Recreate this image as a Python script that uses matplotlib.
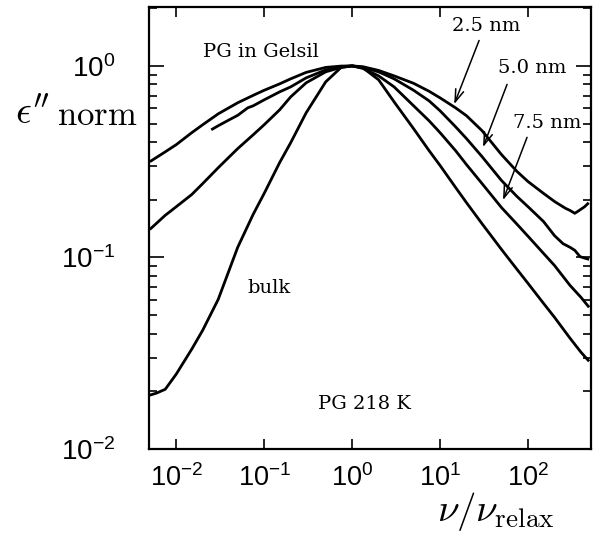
import matplotlib
matplotlib.use("Agg")
import matplotlib.pyplot as plt
from matplotlib.ticker import LogLocator, NullFormatter

# ---- data (x = nu/nu_relax, y = eps''_norm) ----
x_25 = [0.005, 0.0075, 0.01, 0.015, 0.02, 0.03, 0.05, 0.075, 0.1, 0.15, 0.2, 0.3, 0.5, 0.75,
        1.0, 1.33, 2.0, 3.0, 5.0, 7.5, 10, 15, 20, 30, 50, 75, 100, 150, 200, 240, 270, 300,
        340, 375, 410, 440, 490]
y_25 = [0.316, 0.356, 0.388, 0.448, 0.493, 0.562, 0.642, 0.702, 0.746, 0.806, 0.856, 0.925,
        0.982, 0.998, 1.0, 0.990, 0.947, 0.887, 0.811, 0.737, 0.681, 0.604, 0.549, 0.459,
        0.344, 0.281, 0.249, 0.216, 0.196, 0.186, 0.180, 0.176, 0.170, 0.175, 0.180, 0.184,
        0.193]

x_50 = [0.025, 0.03, 0.04, 0.05, 0.065, 0.075, 0.1, 0.15, 0.2, 0.3, 0.5, 0.75, 1.0, 1.33,
        2.0, 3.0, 5.0, 7.5, 10, 15, 20, 30, 50, 75, 100, 150, 200, 250, 300, 340, 390, 450,
        495]
y_50 = [0.464, 0.487, 0.523, 0.552, 0.604, 0.619, 0.665, 0.732, 0.777, 0.866, 0.953, 0.990,
        1.0, 0.982, 0.931, 0.856, 0.746, 0.657, 0.583, 0.481, 0.417, 0.336, 0.252, 0.208,
        0.184, 0.154, 0.130, 0.118, 0.113, 0.109, 0.101, 0.0989, 0.0977]

x_75 = [0.005, 0.0075, 0.01, 0.015, 0.02, 0.03, 0.05, 0.075, 0.1, 0.15, 0.2, 0.3, 0.5, 0.75,
        1.0, 1.33, 2.0, 3.0, 5.0, 7.5, 10, 15, 20, 30, 50, 75, 100, 150, 200, 300, 400, 495]
y_75 = [0.140, 0.166, 0.184, 0.213, 0.243, 0.294, 0.370, 0.437, 0.493, 0.590, 0.689, 0.816,
        0.931, 0.982, 1.0, 0.970, 0.887, 0.777, 0.619, 0.517, 0.448, 0.361, 0.305, 0.243,
        0.182, 0.149, 0.129, 0.105, 0.0908, 0.0715, 0.0619, 0.0549]

x_bulk = [0.005, 0.006, 0.0075, 0.01, 0.015, 0.02, 0.03, 0.05, 0.075, 0.1, 0.15, 0.2, 0.3,
          0.5, 0.75, 1.0, 1.33, 2.0, 3.0, 5.0, 7.5, 10, 15, 20, 30, 50, 75, 100, 150, 200,
          300, 400, 495]
y_bulk = [0.0191, 0.0196, 0.0205, 0.0246, 0.0332, 0.0417, 0.0604, 0.113, 0.168, 0.216,
          0.313, 0.397, 0.569, 0.825, 0.982, 1.0, 0.976, 0.846, 0.649, 0.470, 0.361, 0.302,
          0.232, 0.193, 0.150, 0.110, 0.0866, 0.0732, 0.0576, 0.0487, 0.0379, 0.0320,
          0.0287]

series = [(x_25, y_25), (x_50, y_50), (x_75, y_75), (x_bulk, y_bulk)]

x_limits = (4.9e-3, 520)
y_limits = (1e-2, 2.03)

fig = plt.figure(figsize=(5.93, 5.41), dpi=100)
ax = fig.add_axes([149/593, 1-449/541, 442/593, 442/541])

for xs, ys in series:
    ax.plot(xs, ys, color="black", lw=2.0, solid_joinstyle="round", solid_capstyle="butt")

ax.set_xscale("log")
ax.set_yscale("log")
ax.set_xlim(*x_limits)
ax.set_ylim(*y_limits)

for s in ax.spines.values():
    s.set_linewidth(1.6)

ax.xaxis.set_major_locator(LogLocator(base=10, numticks=10))
ax.xaxis.set_minor_locator(LogLocator(base=10, subs=(), numticks=10))
ax.yaxis.set_major_locator(LogLocator(base=10, numticks=10))
ax.yaxis.set_minor_locator(LogLocator(base=10, subs=range(2, 10), numticks=10))
ax.yaxis.set_minor_formatter(NullFormatter())

ax.tick_params(axis="both", which="both", direction="in", top=True, right=True, width=1.2)
ax.tick_params(axis="x", which="major", length=7, pad=11, labelsize=19.5)
ax.tick_params(axis="y", which="major", length=11, pad=24, labelsize=20)
ax.tick_params(axis="y", which="minor", length=6)
for lab in ax.get_xticklabels() + ax.get_yticklabels():
    lab.set_fontfamily("Liberation Sans")

# axis labels
fig.text(15/593, 1-124/541, r"$\epsilon''$", fontsize=28, math_fontfamily="cm",
         ha="left", va="baseline")
fig.text(57/593, 1-125/541, r"$\mathrm{norm}$", fontsize=25, math_fontfamily="cm",
         ha="left", va="baseline")
fig.text(555/593, 1-521/541, r"$\nu/\nu_{\mathrm{relax}}$", fontsize=28,
         math_fontfamily="cm", ha="right", va="baseline")

# annotations
tf = dict(family="DejaVu Serif", fontsize=14, va="baseline", ha="left")
ax.text(0.0203, 1.114, "PG in Gelsil", **tf)
ax.text(0.0641, 0.0649, "bulk", **tf)
ax.text(0.411, 0.01616, "PG 218 K", **tf)
ax.text(13.7, 1.52, "2.5 nm", **tf)
ax.text(45.6, 0.919, "5.0 nm", **tf)
ax.text(67.6, 0.475, "7.5 nm", **tf)

arr = dict(arrowstyle="->,head_length=0.9,head_width=0.3", color="black", lw=1.1)
ax.annotate("", xy=(14.1, 0.612), xytext=(28.5, 1.40), arrowprops=arr)
ax.annotate("", xy=(30.0, 0.365), xytext=(59.3, 0.826), arrowprops=arr)
ax.annotate("", xy=(50.6, 0.193), xytext=(100, 0.437), arrowprops=arr)

fig.savefig("out.png", dpi=100)
